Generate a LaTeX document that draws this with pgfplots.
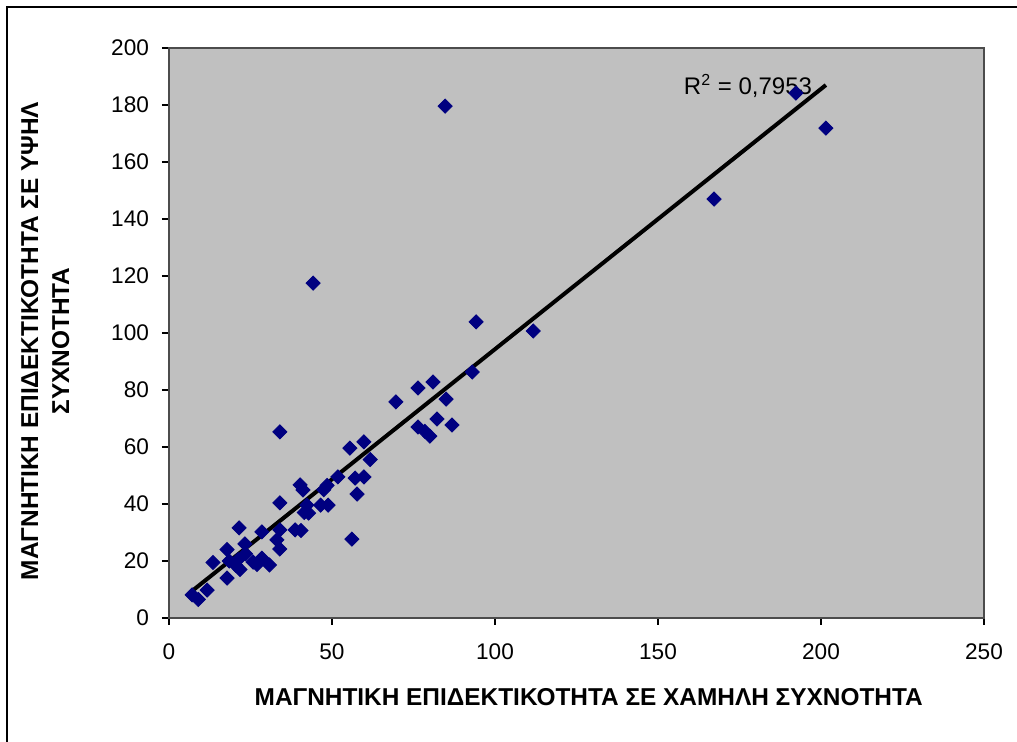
\documentclass[border=0pt]{standalone}
\usepackage{fontspec}
\setmainfont{Liberation Sans}
\usepackage{pgfplots}
\pgfplotsset{compat=1.18}
\definecolor{plotgray}{HTML}{C0C0C0}
\definecolor{navymark}{HTML}{000080}
\begin{document}
\begin{tikzpicture}
\useasboundingbox (0,0) rectangle (508.5pt,371pt);
\draw[line width=1pt] (3.5pt,0) -- (3.5pt,367.5pt) -- (508.5pt,367.5pt);
\begin{axis}[
    at={(84.5pt,62pt)}, anchor=south west,
    scale only axis,
    width=407.5pt, height=285pt,
    xmin=0, xmax=250, ymin=0, ymax=200,
    xtick={0,50,...,250}, ytick={0,20,...,200},
    tick align=outside, xtick pos=left, ytick pos=left,
    major tick length=3.5pt,
    axis background/.style={fill=plotgray},
    axis line style={draw=black!70, line width=0.8pt},
    tick style={black, line width=0.6pt},
    /pgf/number format/assume math mode=true,
    tick label style={font=\fontsize{11.3}{13}\selectfont},
    xticklabel style={yshift=-6pt},
    yticklabel style={xshift=-3pt},
    label style={font=\bfseries\fontsize{12.2}{15.5}\selectfont},
    xlabel={ΜΑΓΝΗΤΙΚΗ ΕΠΙΔΕΚΤΙΚΟΤΗΤΑ ΣΕ ΧΑΜΗΛΗ ΣΥΧΝΟΤΗΤΑ},
    xlabel style={at={(axis description cs:0.515,-0.139)}, anchor=center},
    ylabel={ΜΑΓΝΗΤΙΚΗ ΕΠΙΔΕΚΤΙΚΟΤΗΤΑ ΣΕ ΥΨΗΛ\\ΣΥΧΝΟΤΗΤΑ},
    ylabel style={at={(axis description cs:-0.152,0.486)}, anchor=center, align=center},
]
% measured points
\addplot[only marks, mark=square*, mark size=2.5pt,
         mark options={rotate=45, fill=navymark, draw=navymark}]
coordinates {
(7.1,8.1) (9.0,6.5) (11.7,9.8) (13.5,19.5) (17.8,14.0) (17.8,24.0)
(18.5,20.0) (21.2,20.5) (21.8,17.0) (20.5,18.5) (21.5,31.6) (23.3,26.0)
(23.5,22.5) (25.8,19.6) (27.0,18.8) (28.5,21.0) (28.5,30.2) (30.8,18.6)
(33.1,27.4) (34.0,24.2) (34.0,30.9) (34.0,40.4) (34.0,65.3) (38.7,30.9)
(40.5,30.7) (40.2,46.7) (41.1,44.9) (42.3,39.6) (41.5,37.0) (42.8,36.8)
(44.2,117.5) (46.5,39.6) (48.8,39.6) (47.5,45.0) (48.5,46.5) (51.8,49.5)
(55.5,59.6) (56.1,27.7) (57.1,49.1) (57.7,43.5) (59.8,61.8) (59.8,49.5)
(61.7,55.6) (69.6,75.8) (76.4,80.7) (76.4,67.0) (78.5,65.5) (80.0,63.8)
(81.0,82.8) (82.2,69.8) (84.7,179.6) (85.0,76.8) (86.8,67.7) (93.0,86.3)
(94.2,103.9) (111.7,100.7) (167.2,147.0) (192.3,184.2) (201.5,171.9)
};
% linear trendline
\addplot[black, line width=2pt, no marks] coordinates {(7.1,9.5) (201.5,187.0)};
\node[font=\fontsize{12}{13}\selectfont] at (axis cs:177.6,186.7) {R\textsuperscript{2} = 0,7953};
\end{axis}
\end{tikzpicture}
\end{document}
